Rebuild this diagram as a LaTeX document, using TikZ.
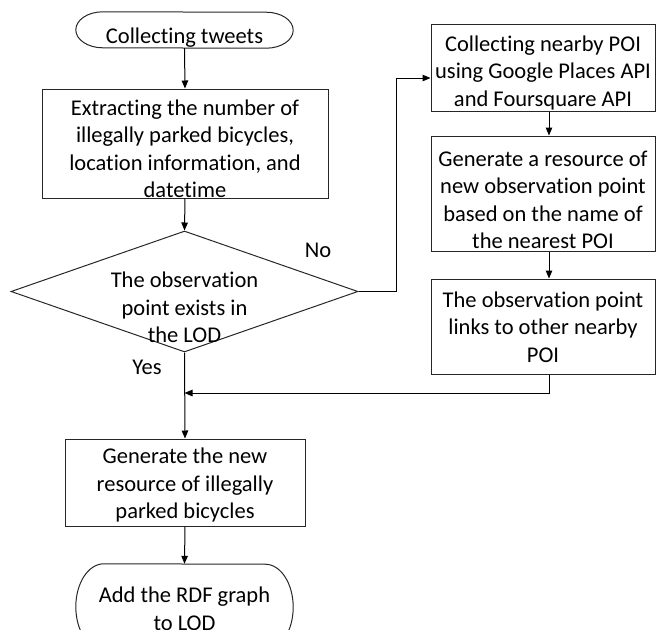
\documentclass[tikz,border=0pt]{standalone}
\usepackage{fontspec}
\setmainfont{Carlito}[Ligatures=NoCommon]
\usetikzlibrary{arrows.meta,shapes.geometric,calc}

\tikzset{
  x=1pt, y=-1pt,
  outline/.style={draw=black!85, line width=1pt},
  box/.style={outline, rectangle, inner sep=0pt},
  shapeonly/.style={rectangle, draw=none, inner sep=0pt},
  txt/.style={align=center, inner sep=0pt, font=\fontsize{22.5}{27.5}\selectfont},
  flow/.style={draw=black, line width=1pt, -{Triangle[length=8pt,width=6.5pt]}},
}

\begin{document}
\begin{tikzpicture}
  \useasboundingbox (0,0) rectangle (657,630);
  \clip (0,0) rectangle (657,630);

  % start terminal
  \node[shapeonly, minimum width=217pt, minimum height=36pt] (start) at (184.5,30) {};
  \draw[outline] ([xshift=27pt]start.north west)
      arc[start angle=270, end angle=90, x radius=27, y radius=18]
      -- ([xshift=-27pt]start.south east)
      arc[start angle=90, end angle=-90, x radius=27, y radius=18] -- cycle;
  \node[txt] (starttxt) at (184.5,38) {Collecting tweets};

  % extraction step
  \node[box, minimum width=286pt, minimum height=109pt] (extract) at (185,143.5) {};
  \node[txt] (extracttxt) at (185,149) {Extracting the number of\\illegally parked bicycles,\\location information, and\\datetime};

  % decision
  \node[diamond, outline, inner sep=0pt, aspect=2.868, minimum width=347pt, minimum height=121pt] (decide) at (184.5,291.5) {};
  \node[txt] (decidetxt) at (184.5,307.5) {The observation\\point exists in\\the LOD};
  \node[txt] (no) at (318,250) {No};
  \node[txt] (yes) at (147,367) {Yes};

  % right-hand column
  \node[box, minimum width=224pt, minimum height=87pt] (poi) at (543,67.5) {};
  \node[txt] (poitxt) at (543,72.5) {Collecting nearby POI\\using Google Places API\\and Foursquare API};

  \node[box, minimum width=224pt, minimum height=115pt] (newpt) at (543,193.5) {};
  \node[txt] (newpttxt) at (543,200) {Generate a resource of\\new observation point\\based on the name of\\the nearest POI};

  \node[box, minimum width=224pt, minimum height=95pt] (links) at (543,326.5) {};
  \node[txt] (linkstxt) at (543,327) {The observation point\\links to other nearby\\POI};

  % generation step
  \node[box, minimum width=240pt, minimum height=87pt] (gen) at (185,482.5) {};
  \node[txt] (gentxt) at (185,485) {Generate the new\\resource of illegally\\parked bicycles};

  % end terminal
  \node[shapeonly, minimum width=217pt, minimum height=86pt] (finish) at (184.5,607) {};
  \draw[outline] ([xshift=28pt]finish.north west)
      arc[start angle=270, end angle=90, x radius=28, y radius=43]
      -- ([xshift=-28pt]finish.south east)
      arc[start angle=90, end angle=-90, x radius=28, y radius=43] -- cycle;
  \node[txt] (finishtxt) at (184.5,609) {Add the RDF graph\\to LOD};

  % connectors
  \coordinate (nobend) at (396,78);
  \coordinate (merge) at (184.5,393);

  \draw[flow] (start.south) -- (extract.north);
  \draw[flow] (extract.south) -- (decide.north);
  \draw[flow] (decide.south) -- (gen.north);
  \draw[flow] (gen.south) -- (finish.north);

  \draw[flow] (decide.east) -| (nobend) -- (nobend -| poi.west);
  \draw[flow] ([xshift=6pt]poi.south) -- ([xshift=6pt]newpt.north);
  \draw[flow] ([xshift=6pt]newpt.south) -- ([xshift=6pt]links.north);
  \draw[flow] ([xshift=6pt]links.south) |- (merge);
\end{tikzpicture}
\end{document}
